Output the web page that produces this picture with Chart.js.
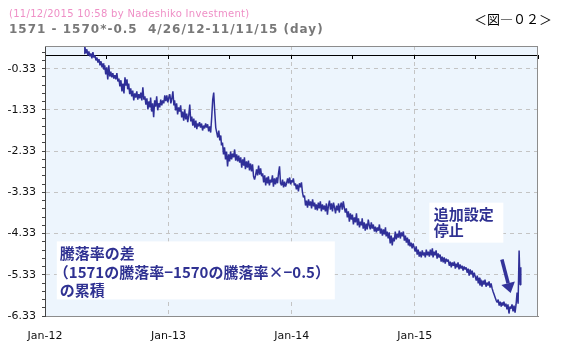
<!DOCTYPE html>
<html>
<head>
<meta charset="utf-8">
<script src="https://cdn.jsdelivr.net/npm/chart.js@4.4.0/dist/chart.umd.min.js"></script>
<style>
  html, body { margin: 0; padding: 0; background: #fff; }
</style>
</head>
<body>
<canvas id="chart" width="566" height="349"></canvas>
<script>
// 2012-01-01 からの経過日数
const days = [
  116,118,121,124,127,130,133,136,139,142, 145,148,151,154,157,160,163,166,169,172,
  174,177,180,183,186,189,192,195,198,201, 204,207,210,213,216,219,222,225,228,231,
  234,237,240,243,245,248,251,254,257,260, 263,266,269,272,275,278,281,284,287,290,
  293,296,299,302,305,308,311,313,316,319, 322,325,328,331,334,337,340,343,346,349,
  352,355,358,361,364,367,370,373,376,379, 382,384,387,390,393,396,399,402,405,408,
  411,414,417,420,423,426,429,432,435,438, 441,444,447,450,452,455,458,
  461,464,467,470,473,476,479,482,485,488, 491,494,497,500,503,506,509,512,515,518,
  521,523,526,529,532,535,538,541,544,547, 550,553,556,559,562,565,568,571,574,577,
  580,583,586,589,591,594,597,600,603,606, 609,612,615,618,621,624,627,630,633,636,
  639,642,645,648,651,654,657,660,662,665, 668,671,674,677,680,683,686,689,692,695,
  698,701,704,707,710,713,716,719,722,725, 728,730,733,736,739,742,745,748,751,754,
  757,760,763,766,769,772,775,778,781,784, 787,790,793,796,799,801,804,807,810,813,
  816,819,822,825,828,831,834,837,840,
  843,846,849,852,855,858,861,864,867,870, 872,875,878,881,884,887,890,893,896,899,
  902,905,908,911,914,917,920,923,926,929, 932,935,938,940,943,946,949,952,955,958,
  961,964,967,970,973,976,979,982,985,988, 991,994,997,1000,1003,1006,1009,1011,1014,1017,
  1020,1023,1026,1029,1032,1035,1038,1041,1044,1047, 1050,1053,1056,1059,1062,1065,1068,1071,1074,1077,
  1079,1082,1085,1088,1091,1094,1097,1100,1103,1106, 1109,1112,1115,1118,1121,1124,1127,1130,1133,1136,1139,
  1142,1145,1148,1150,1153,1156,1159,1162,1165,1168, 1171,1174,1177,1180,1183,1186,1189,1192,1195,1198,
  1201,1204,1207,1210,1213,1216,1218,1221,1224,1227, 1230,1233,1236,1239,1242,1245,1248,1251,1254,1257,
  1260,1263,1266,1269,1272,1275,1278,1281,1284,1287, 1289,1292,1295,1298,1301,1304,1307,1310,1313,1316,
  1319,1322,1325,1328,1331,1334,1337,1340,1343,1346, 1349,1352,1355,1357,1360,1363,1366,1369,1372,1375,
  1378,1381,1384,1387,1390,1393,1396,1399,1402,1405, 1408,1410
];

// 騰落率の差の累積
const spread = [
  0.04,0.21,0.04,0.14,-0.01,0.09,-0.03,0.04,-0.08,0.07, -0.06,-0.01,-0.13,-0.06,-0.18,-0.10,-0.25,-0.15,-0.30,-0.20,
  -0.35,-0.25,-0.47,-0.30,-0.59,-0.25,-0.52,-0.40,-0.54,-0.44, -0.57,-0.49,-0.59,-0.44,-0.64,-0.57,-0.76,-0.61,-0.88,-0.69,
  -0.93,-0.54,-0.74,-0.59,-0.83,-0.69,-0.95,-0.81,-1.00,-0.86, -1.10,-0.93,-1.03,-0.88,-1.08,-0.95,-1.05,-0.91,-1.10,-0.78,
  -1.08,-1.00,-1.20,-1.05,-1.32,-1.12,-1.27,-1.03,-1.37,-1.17, -1.51,-1.10,-1.25,-1.00,-1.34,-1.17,-1.27,-1.08,-1.22,-1.10,
  -1.17,-0.98,-1.12,-0.98,-1.15,-1.03,-0.95,-1.17,-1.05,-0.88, -1.22,-1.10,-1.34,-1.17,-1.44,-1.27,-1.37,-1.22,-1.51,-1.37,
  -1.59,-1.32,-1.56,-1.42,-1.63,-1.46,-1.20,-1.61,-1.49,-1.71, -1.54,-1.76,-1.59,-1.80,-1.66,-1.73,-1.63,
  -1.76,-1.66,-1.83,-1.71,-1.78,-1.66,-1.76,-1.68,-1.85,-1.73, -1.88,-1.51,-1.08,-0.91,-1.37,-1.76,-1.88,-2.00,-1.83,-2.07,
  -1.95,-2.19,-2.12,-2.41,-2.24,-2.53,-2.34,-2.70,-2.41,-2.58, -2.34,-2.53,-2.39,-2.48,-2.29,-2.56,-2.41,-2.58,-2.44,-2.61,
  -2.48,-2.73,-2.53,-2.68,-2.48,-2.77,-2.58,-2.73,-2.56,-2.80, -2.63,-2.82,-2.65,-2.94,-3.02,-2.92,-2.77,-2.92,-2.68,-2.90,
  -2.75,-2.94,-2.87,-3.09,-2.92,-3.16,-2.97,-3.11,-2.94,-3.16, -3.02,-3.09,-2.92,-3.19,-2.99,-3.14,-2.97,-3.11,-2.87,-2.70,
  -3.11,-3.16,-3.02,-3.21,-3.07,-3.19,-3.11,-2.99,-3.11,-2.97, -3.14,-3.04,-3.09,-2.99,-3.16,-3.11,-3.26,-3.14,-3.31,-3.11,
  -3.21,-3.09,-3.33,-3.45,-3.41,-3.65,-3.53,-3.70,-3.50,-3.65, -3.55,-3.72,-3.50,-3.67,-3.58,-3.75,-3.62,-3.77,-3.58,-3.72,
  -3.55,-3.79,-3.62,-3.75,-3.65,-3.79,-3.60,-3.87,-3.65,
  -3.53,-3.75,-3.60,-3.79,-3.58,-3.70,-3.84,-3.65,-3.77,-3.60, -3.82,-3.67,-3.58,-3.75,-3.55,-3.70,-3.82,-3.72,-3.94,-3.79,
  -4.04,-3.84,-3.99,-3.87,-4.11,-3.94,-4.06,-3.84,-4.13,-3.96, -4.18,-4.04,-4.13,-3.96,-4.21,-4.06,-4.26,-4.09,-4.23,-3.99,
  -4.13,-4.23,-4.06,-4.21,-4.11,-4.28,-4.16,-4.30,-4.18,-4.26, -4.11,-4.33,-4.21,-4.38,-4.23,-4.35,-4.18,-4.40,-4.28,-4.45,
  -4.30,-4.57,-4.38,-4.62,-4.43,-4.52,-4.28,-4.47,-4.33,-4.43, -4.26,-4.45,-4.30,-4.40,-4.28,-4.50,-4.38,-4.55,-4.43,-4.62,
  -4.47,-4.64,-4.55,-4.69,-4.57,-4.67,-4.77,-4.64,-4.84,-4.72, -4.89,-4.77,-4.91,-4.74,-4.86,-4.79,-4.91,-4.72,-4.86,-4.77,-4.89,
  -4.72,-4.86,-4.69,-4.91,-4.77,-4.86,-4.74,-4.94,-4.81,-4.91, -4.84,-5.01,-4.89,-5.03,-4.91,-5.06,-4.94,-5.01,-4.96,-5.11,
  -5.01,-5.15,-5.03,-5.11,-5.01,-5.18,-5.06,-5.15,-5.03,-5.20, -5.08,-5.18,-5.11,-5.23,-5.13,-5.20,-5.15,-5.28,-5.18,-5.35,
  -5.20,-5.32,-5.23,-5.40,-5.28,-5.37,-5.47,-5.35,-5.54,-5.40, -5.59,-5.45,-5.62,-5.47,-5.57,-5.45,-5.62,-5.52,-5.59,-5.49,
  -5.64,-5.54,-5.66,-5.74,-5.81,-5.88,-5.95,-6.00,-5.93,-6.08, -5.98,-6.10,-6.00,-6.08,-5.98,-6.10,-6.03,-6.17,-6.05,-6.27,
  -6.10,-6.15,-6.05,-6.22,-6.08,-6.25,-6.05,-5.76,-6.03,-4.74, -5.57,-5.15
];

// 目盛り
const tickDays = [0, 366, 731, 1096];
const tickLabels = ["Jan-12", "Jan-13", "Jan-14", "Jan-15"];
const halfYearDays = [0, 182, 366, 547, 731, 912, 1096, 1277, 1461];
const yMajor = [-6.33, -5.33, -4.33, -3.33, -2.33, -1.33, -0.33];
const yMin = -6.33, yMax = 0.22;

const stampText = "(11/12/2015 10:58 by Nadeshiko Investment)";
const titleText = "1571 - 1570*-0.5  4/26/12-11/11/15 (day)";
const figText = "＜図―０２＞";

// 注記 (位置はデータ座標)
const notes = [
  { day: 35, value: -4.52, w: 278, h: 58, padX: 3, first: 12, gap: 18.5, indent: [0, -6, 0],
    lines: ["騰落率の差", "（1571の騰落率−1570の騰落率×−0.5）", "の累積"] },
  { day: 1139, value: -3.58, w: 74, h: 40, padX: 4.5, first: 11.5, gap: 16.6, indent: [0, 0],
    lines: ["追加設定", "停止"] }
];
const arrowFrom = { day: 1354, value: -4.96 };
const arrowTo = { day: 1380, value: -5.77 };

const noteColor = "#2f3192";

const frame = {
  id: "frame",
  beforeDraw(chart) {
    const { ctx, chartArea: a } = chart;
    ctx.save();
    ctx.fillStyle = "#edf5fd";
    ctx.fillRect(a.left, a.top, a.right - a.left, a.bottom - a.top);
    ctx.restore();
  },
  afterDatasetsDraw(chart) {
    const { ctx, chartArea: a, scales } = chart;
    const sx = scales.x, sy = scales.y;
    ctx.save();
    // 枠 (上・右)
    ctx.strokeStyle = "#8c8c8c";
    ctx.lineWidth = 1;
    ctx.beginPath();
    ctx.moveTo(a.left, Math.round(a.top) + 0.5);
    ctx.lineTo(a.right, Math.round(a.top) + 0.5);
    ctx.moveTo(Math.round(a.right) - 0.5, a.top);
    ctx.lineTo(Math.round(a.right) - 0.5, a.bottom);
    ctx.stroke();

    // 注記ボックス
    notes.forEach(n => {
      const x = sx.getPixelForValue(n.day), y = sy.getPixelForValue(n.value);
      ctx.fillStyle = "#ffffff";
      ctx.fillRect(x, y, n.w, n.h);
      ctx.fillStyle = noteColor;
      ctx.font = 'bold 15px "Noto Sans CJK JP"';
      ctx.textBaseline = "middle";
      ctx.textAlign = "left";
      n.lines.forEach((t, i) => ctx.fillText(t, x + n.padX + n.indent[i], y + n.first + i * n.gap));
    });

    // 矢印
    const x1 = sx.getPixelForValue(arrowFrom.day), y1 = sy.getPixelForValue(arrowFrom.value);
    const x2 = sx.getPixelForValue(arrowTo.day), y2 = sy.getPixelForValue(arrowTo.value);
    const ang = Math.atan2(y2 - y1, x2 - x1);
    const headLen = 10, headW = 7;
    const bx = x2 - headLen * Math.cos(ang), by = y2 - headLen * Math.sin(ang);
    ctx.strokeStyle = "#33339a";
    ctx.fillStyle = "#33339a";
    ctx.lineWidth = 3.5;
    ctx.beginPath();
    ctx.moveTo(x1, y1);
    ctx.lineTo(bx, by);
    ctx.stroke();
    ctx.beginPath();
    ctx.moveTo(x2, y2);
    ctx.lineTo(bx + headW * Math.sin(ang), by - headW * Math.cos(ang));
    ctx.lineTo(bx - headW * Math.sin(ang), by + headW * Math.cos(ang));
    ctx.closePath();
    ctx.fill();
    ctx.restore();
  },
  afterDraw(chart) {
    const ctx = chart.ctx;
    ctx.save();
    ctx.textBaseline = "middle";
    ctx.textAlign = "left";
    ctx.font = '10px "DejaVu Sans"';
    ctx.fillStyle = "#ef8fc6";
    ctx.letterSpacing = "0.3px";
    ctx.fillText(stampText, 9, 14.5);
    ctx.font = 'bold 12px "DejaVu Sans"';
    ctx.fillStyle = "#787878";
    ctx.letterSpacing = "1px";
    ctx.fillText(titleText, 9, 30);
    ctx.letterSpacing = "0px";
    ctx.font = '13px "Noto Sans CJK JP"';
    ctx.fillStyle = "#000";
    ctx.fillText(figText, 474, 19);
    ctx.restore();
  }
};

new Chart(document.getElementById("chart"), {
  type: "line",
  data: {
    datasets: [{
      data: days.map((d, i) => ({ x: d, y: spread[i] })),
      borderColor: "#2f2f98",
      borderWidth: 1.5,
      borderJoinStyle: "bevel",
      pointRadius: 0,
      tension: 0,
      fill: false
    }]
  },
  options: {
    responsive: false,
    animation: false,
    devicePixelRatio: 1,
    layout: { padding: { top: 46, right: 28, left: 0, bottom: 0 } },
    plugins: { legend: { display: false }, tooltip: { enabled: false } },
    scales: {
      x: {
        type: "linear", position: "bottom", min: 0, max: 1461,
        afterBuildTicks: s => { s.ticks = tickDays.map(v => ({ value: v })); },
        afterFit: s => { s.height = 33; },
        ticks: {
          callback: v => tickLabels[tickDays.indexOf(v)] ?? "",
          font: { family: "DejaVu Sans", size: 11 }, color: "#111",
          padding: 14, maxRotation: 0, autoSkip: false
        },
        grid: {
          color: c => (c.tick && c.tick.value > 0) ? "#c4c4c4" : "rgba(0,0,0,0)",
          drawTicks: false, lineWidth: 1
        },
        border: { color: "#8c8c8c", width: 1, dash: [4, 4] }
      },
      x2: {
        type: "linear", position: { y: 0 }, min: 0, max: 1461,
        afterBuildTicks: s => { s.ticks = halfYearDays.map(v => ({ value: v })); },
        ticks: { display: false },
        grid: { drawOnChartArea: false, drawTicks: true, tickLength: 3, tickColor: "#000" },
        border: { color: "#000", width: 1 }
      },
      y: {
        type: "linear", min: yMin, max: yMax,
        afterBuildTicks: s => {
          const t = [];
          yMajor.forEach(m => {
            for (let k = 0; k < 5; k++) {
              const v = +(m + k * 0.2).toFixed(2);
              if (v <= yMax) t.push({ value: v });
            }
          });
          s.ticks = t;
        },
        afterFit: s => { s.width = 45; },
        ticks: {
          callback: v => yMajor.includes(v) ? v.toFixed(2) : "",
          font: { family: "DejaVu Sans", size: 11 }, color: "#111",
          padding: 6, autoSkip: false
        },
        grid: {
          color: c => (c.tick && yMajor.includes(c.tick.value)) ? "#c4c4c4" : "rgba(0,0,0,0)",
          tickColor: "#444", tickLength: 3, lineWidth: 1
        },
        border: { color: "#444", width: 1, dash: [4, 4] }
      }
    }
  },
  plugins: [frame]
});
</script>
</body>
</html>
